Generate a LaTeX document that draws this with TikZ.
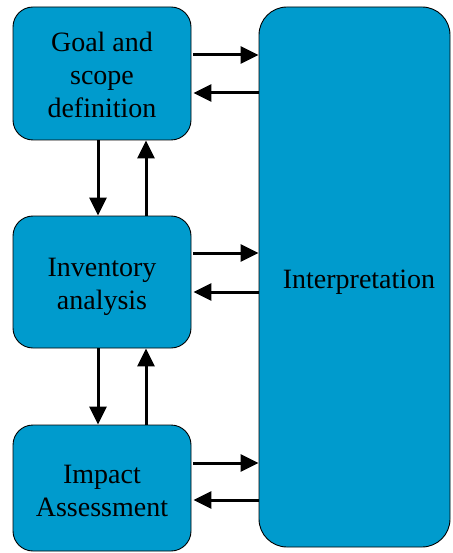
\documentclass[tikz,border=0pt]{standalone}
\usepackage{fontspec}
\setmainfont{Liberation Serif}
\usetikzlibrary{arrows.meta}
\definecolor{boxblue}{RGB}{0,155,205}
\newcommand{\lowtext}[2]{\raisebox{-#1}[\height][\depth]{\begin{tabular}{@{}c@{}}#2\end{tabular}}}
\tikzset{
  stagebox/.style={draw=black, line width=0.9pt, fill=boxblue, rounded corners=20pt,
    minimum width=178pt, inner sep=0pt, align=center,
    font=\fontsize{28}{33}\selectfont},
  arr/.style={line width=3pt, -{Triangle[length=18pt,width=17pt]}},
}
\begin{document}
\begin{tikzpicture}[x=1pt,y=-1pt]
\useasboundingbox (0,0) rectangle (452,553);
\node[stagebox, minimum height=133pt] (g) at (102,73.5) {\lowtext{4pt}{Goal and\\scope\\definition}};
\node[stagebox, minimum height=132pt] (i) at (102,282) {\lowtext{4pt}{Inventory\\analysis}};
\node[stagebox, minimum height=126pt] (a) at (102,488) {\lowtext{5pt}{Impact\\Assessment}};
\node[stagebox, minimum width=191pt, minimum height=540pt, rounded corners=28pt] (p) at (354.5,277) {\lowtext{5pt}{\hspace{9pt}Interpretation}};
% horizontal arrows
\draw[arr] ([xshift=2pt,yshift=18.5pt]g.east) -- ([yshift=18.5pt]g.east -| p.west);
\draw[arr] ([yshift=-19.5pt]g.east -| p.west) -- ([xshift=2pt,yshift=-19.5pt]g.east);
\draw[arr] ([xshift=2pt,yshift=29pt]i.east) -- ([yshift=29pt]i.east -| p.west);
\draw[arr] ([yshift=-10pt]i.east -| p.west) -- ([xshift=2pt,yshift=-10pt]i.east);
\draw[arr] ([xshift=2pt,yshift=25pt]a.east) -- ([yshift=25pt]a.east -| p.west);
\draw[arr] ([yshift=-12pt]a.east -| p.west) -- ([xshift=2pt,yshift=-12pt]a.east);
% vertical arrows
\draw[arr] ([xshift=-4pt]g.south) -- ([xshift=-4pt]i.north);
\draw[arr] ([xshift=44pt]i.north) -- ([xshift=44pt]g.south);
\draw[arr] ([xshift=-4pt]i.south) -- ([xshift=-4pt]a.north);
\draw[arr] ([xshift=44pt]a.north) -- ([xshift=44pt]i.south);
\end{tikzpicture}
\end{document}
